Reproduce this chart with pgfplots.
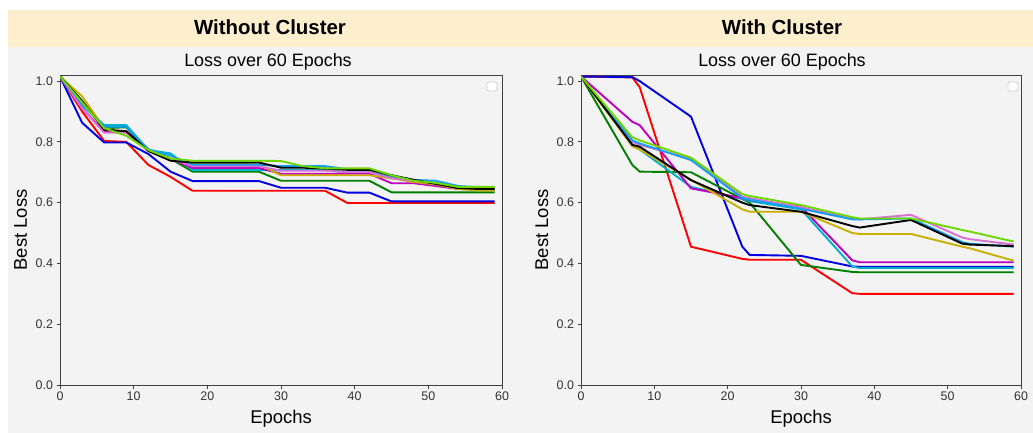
\documentclass[border=0pt]{standalone}
\usepackage{fontspec}
\setmainfont{Liberation Sans}
\usepackage{pgfplots}
\usepackage{pgfplotstable}
\pgfplotsset{compat=1.18}
\definecolor{cRed}{RGB}{255,0,0}
\definecolor{cBlue}{RGB}{0,0,225}
\definecolor{cGreen}{RGB}{0,128,0}
\definecolor{cTeal}{RGB}{0,175,200}
\definecolor{cMag}{RGB}{191,0,191}
\definecolor{cOrchid}{RGB}{218,112,214}
\definecolor{cDodger}{RGB}{20,160,240}
\definecolor{cOlive}{RGB}{200,175,0}
\definecolor{cLime}{RGB}{110,215,0}
\definecolor{beige}{RGB}{253,238,206}
\definecolor{panelgray}{RGB}{243,243,243}

\pgfplotstableread{
x   red   blue  green teal  black mag   orchid dodger olive lime
0   1.015 1.015 1.015 1.015 1.015 1.015 1.015 1.015 1.015 1.015
3   0.900 0.863 0.930 0.920 0.935 0.910 0.910 0.925 0.950 0.930
6   0.803 0.798 0.845 0.855 0.840 0.835 0.830 0.850 0.845 0.845
9   0.800 0.798 0.848 0.855 0.835 0.835 0.830 0.850 0.830 0.820
12  0.724 0.760 0.775 0.773 0.770 0.772 0.770 0.775 0.773 0.773
15  0.685 0.702 0.745 0.762 0.738 0.745 0.745 0.755 0.740 0.745
18  0.639 0.671 0.702 0.707 0.732 0.714 0.720 0.725 0.730 0.738
21  0.639 0.671 0.702 0.707 0.732 0.714 0.720 0.725 0.730 0.738
24  0.639 0.671 0.702 0.707 0.732 0.714 0.720 0.725 0.730 0.738
27  0.639 0.671 0.702 0.707 0.732 0.714 0.720 0.725 0.725 0.738
30  0.639 0.649 0.672 0.707 0.715 0.695 0.705 0.720 0.690 0.737
33  0.639 0.649 0.672 0.707 0.715 0.695 0.705 0.720 0.690 0.720
36  0.639 0.649 0.672 0.707 0.712 0.695 0.705 0.720 0.690 0.713
39  0.599 0.633 0.672 0.700 0.708 0.695 0.700 0.710 0.690 0.713
42  0.599 0.633 0.672 0.700 0.708 0.695 0.700 0.710 0.690 0.713
45  0.599 0.604 0.634 0.685 0.690 0.664 0.680 0.690 0.680 0.690
48  0.599 0.604 0.634 0.670 0.675 0.664 0.672 0.675 0.668 0.672
51  0.599 0.604 0.634 0.665 0.662 0.655 0.664 0.672 0.660 0.665
54  0.599 0.604 0.634 0.650 0.648 0.645 0.652 0.655 0.645 0.652
57  0.599 0.604 0.634 0.648 0.645 0.643 0.648 0.650 0.640 0.652
59  0.599 0.604 0.634 0.648 0.645 0.643 0.648 0.650 0.640 0.652
}\leftdata

\pgfplotstableread{
x   red   blue  green mag   teal  black olive lime  orchid dodger
0   1.015 1.015 1.015 1.015 1.015 1.015 1.015 1.015 1.015 1.015
7   1.012 1.013 0.724 0.866 0.790 0.790 0.785 0.815 0.800 0.805
8   0.980 1.000 0.702 0.855 0.775 0.784 0.775 0.805 0.790 0.795
15  0.455 0.883 0.700 0.647 0.652 0.674 0.675 0.748 0.745 0.740
22  0.415 0.455 0.612 0.615 0.612 0.600 0.578 0.628 0.620 0.615
23  0.412 0.428 0.600 0.609 0.605 0.592 0.570 0.622 0.615 0.610
30  0.412 0.425 0.395 0.587 0.578 0.570 0.570 0.592 0.585 0.580
37  0.302 0.390 0.372 0.410 0.390 0.523 0.500 0.552 0.548 0.545
38  0.300 0.389 0.371 0.404 0.385 0.518 0.497 0.548 0.545 0.545
45  0.300 0.389 0.371 0.404 0.385 0.543 0.497 0.548 0.560 0.548
52  0.300 0.389 0.371 0.404 0.385 0.465 0.455 0.510 0.485 0.470
53  0.300 0.389 0.371 0.404 0.385 0.462 0.450 0.505 0.480 0.465
59  0.300 0.389 0.371 0.404 0.385 0.457 0.409 0.472 0.462 0.455
}\rightdata

\pgfplotsset{
  myaxis/.style={
    scale only axis, width=442bp, height=310bp,
    xmin=0, xmax=60, ymin=0, ymax=1.02,
    xtick={0,10,...,60}, ytick={0,0.2,0.4,0.6,0.8,1.0},
    yticklabel style={/pgf/number format/fixed,/pgf/number format/fixed zerofill,/pgf/number format/precision=1},
    /pgf/number format/assume math mode=true,
    tick label style={font=\fontsize{12.5}{14}\selectfont, text=black!80},
    tick align=outside, tick pos=left, major tick length=3.5bp,
    axis line style={black!75, line width=0.8bp},
    every tick/.style={black!75, line width=0.8bp},
    xlabel={Epochs}, ylabel={Best Loss},
    every axis x label/.style={at={(axis description cs:0.5,-0.1226)}, anchor=base, font=\fontsize{18.5}{22}\selectfont},
    every axis y label/.style={at={(axis description cs:-0.0747,0.5)}, rotate=90, anchor=base, font=\fontsize{18.5}{22}\selectfont},
    title={Loss over 60 Epochs},
    every axis plot/.append style={line width=1.9bp, line join=round},
  }
}

\begin{document}
\begin{tikzpicture}
\useasboundingbox (0,0) rectangle (1033bp,-433bp);
\fill[white] (0,0) rectangle (1033bp,-433bp);
\fill[beige] (7.5bp,-10bp) rectangle (1033bp,-47bp);
\fill[panelgray] (7.5bp,-47bp) rectangle (1033bp,-433bp);
\node[anchor=base, font=\bfseries\fontsize{20.5}{24}\selectfont] at (270bp,-34.5bp) {Without Cluster};
\node[anchor=base, font=\bfseries\fontsize{20.5}{24}\selectfont] at (782bp,-34.5bp) {With Cluster};

\begin{axis}[myaxis, at={(60bp,-385bp)}, anchor=south west,
  every axis title/.style={at={(axis description cs:0.4706,1.029)}, anchor=base, font=\fontsize{18}{21}\selectfont}]
  \addplot[cRed] table[x=x,y=red] {\leftdata};
  \addplot[cBlue] table[x=x,y=blue] {\leftdata};
  \addplot[cGreen] table[x=x,y=green] {\leftdata};
  \addplot[cTeal] table[x=x,y=teal] {\leftdata};
  \addplot[cMag] table[x=x,y=mag] {\leftdata};
  \addplot[cOlive] table[x=x,y=olive] {\leftdata};
  \addplot[cOrchid] table[x=x,y=orchid] {\leftdata};
  \addplot[cDodger] table[x=x,y=dodger] {\leftdata};
  \addplot[black] table[x=x,y=black] {\leftdata};
  \addplot[cLime] table[x=x,y=lime] {\leftdata};
\end{axis}

\begin{axis}[myaxis, width=440bp, at={(581bp,-385bp)}, anchor=south west,
  every axis title/.style={at={(axis description cs:0.4568,1.029)}, anchor=base, font=\fontsize{18}{21}\selectfont}]
  \addplot[cRed] table[x=x,y=red] {\rightdata};
  \addplot[cBlue] table[x=x,y=blue] {\rightdata};
  \addplot[cGreen] table[x=x,y=green] {\rightdata};
  \addplot[cTeal] table[x=x,y=teal] {\rightdata};
  \addplot[cMag] table[x=x,y=mag] {\rightdata};
  \addplot[cOlive] table[x=x,y=olive] {\rightdata};
  \addplot[cOrchid] table[x=x,y=orchid] {\rightdata};
  \addplot[cDodger] table[x=x,y=dodger] {\rightdata};
  \addplot[black] table[x=x,y=black] {\rightdata};
  \addplot[cLime] table[x=x,y=lime] {\rightdata};
\end{axis}

\draw[draw=black!18, fill=white, rounded corners=1.5bp, line width=0.8bp] (487bp,-82bp) rectangle (497bp,-91bp);
\draw[draw=black!18, fill=white, rounded corners=1.5bp, line width=0.8bp] (1008bp,-82bp) rectangle (1018bp,-91bp);
\end{tikzpicture}
\end{document}
